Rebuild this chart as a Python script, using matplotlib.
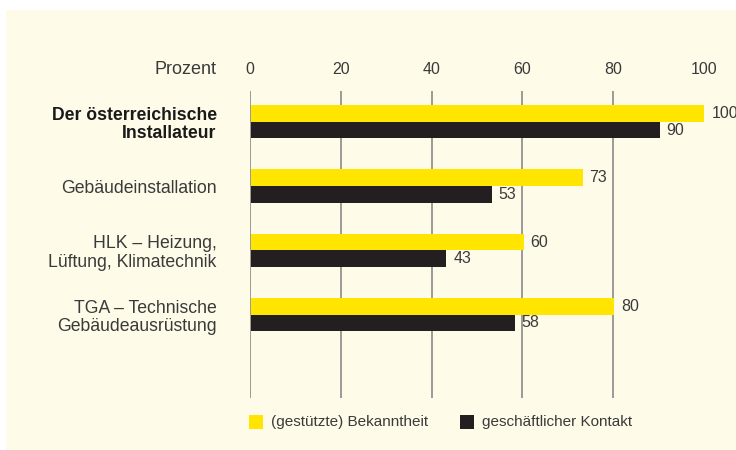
import matplotlib
matplotlib.use("Agg")
import matplotlib.pyplot as plt
from matplotlib.patches import Rectangle
import numpy as np

plt.rcParams['font.family'] = ['Liberation Sans', 'DejaVu Sans']

categories = ["Der österreichische\nInstallateur", "Gebäudeinstallation",
              "HLK – Heizung,\nLüftung, Klimatechnik", "TGA – Technische\nGebäudeausrüstung"]
bekanntheit = [100, 73, 60, 80]
kontakt = [90, 53, 43, 58]
series_names = ["(gestützte) Bekanntheit", "geschäftlicher Kontakt"]
xticks = [0, 20, 40, 60, 80, 100]
axis_label = "Prozent"

YELLOW = "#ffe500"
BLACK = "#231f20"
CREAM = "#fefbe9"
TEXT = "#3a3a3a"
GRID = "#8a8a8a"

W, H = 736, 450
fig = plt.figure(figsize=(W / 100, H / 100), dpi=100)
fig.patch.set_facecolor("white")
fig.patches.append(Rectangle((6 / W, 0), 1 - 6 / W, 1 - 10 / H, transform=fig.transFigure,
                             facecolor=CREAM, edgecolor="none", zorder=-10))

left, right = 250 / W, 703.75 / W
top, bottom = 1 - 91 / H, 1 - 398 / H
ax = fig.add_axes([left, bottom, right - left, top - bottom])
ax.set_facecolor("none")
for s in ax.spines.values():
    s.set_visible(False)

y = np.arange(len(categories))
bh = 16.5 / 64
ax.set_xlim(0, 100)
ax.set_ylim(4.30, -0.48)

for t in xticks[:-1]:
    ax.axvline(t, color=GRID, lw=1.2, zorder=0)

ax.barh(y - bh / 2, bekanntheit, height=bh, color=YELLOW, zorder=2, left=0.3)
ax.barh(y + bh / 2, kontakt, height=bh, color=BLACK, zorder=2, left=0.3)

for i in range(len(categories)):
    ax.annotate(str(bekanntheit[i]), (bekanntheit[i], y[i] - bh / 2), xytext=(6, 0),
                textcoords="offset points", va="center", ha="left", fontsize=11.5, color=TEXT)
    ax.annotate(str(kontakt[i]), (kontakt[i], y[i] + bh / 2), xytext=(6, 0),
                textcoords="offset points", va="center", ha="left", fontsize=11.5, color=TEXT)

ax.xaxis.tick_top()
ax.set_xticks(xticks)
ax.set_xticklabels([str(t) for t in xticks])
ax.tick_params(axis="x", length=0, pad=10, labelsize=11.5, labelcolor=TEXT)

ax.set_yticks(y)
ax.set_yticklabels(categories)
ax.tick_params(axis="y", length=0, pad=24, labelsize=12.7, labelcolor=TEXT)
for i, lab in enumerate(ax.get_yticklabels()):
    lab.set_linespacing(1.12)
    if i == 0:
        lab.set_fontweight("bold")
        lab.set_color("#1a1a1a")

fig.text(216 / W, 1 - 74 / H, axis_label, ha="right", va="baseline", fontsize=13, color=TEXT)

# legend
ly = 1 - 422 / H
sq = 14
for x0, col, name in [(249, YELLOW, series_names[0]), (460, BLACK, series_names[1])]:
    fig.patches.append(Rectangle((x0 / W, ly - sq / 2 / H), sq / W, sq / H, transform=fig.transFigure,
                                 facecolor=col, edgecolor="none"))
    fig.text((x0 + sq + 8) / W, ly, name, ha="left", va="center", fontsize=11, color=TEXT)

fig.savefig("out.png", dpi=100, facecolor=fig.get_facecolor())
